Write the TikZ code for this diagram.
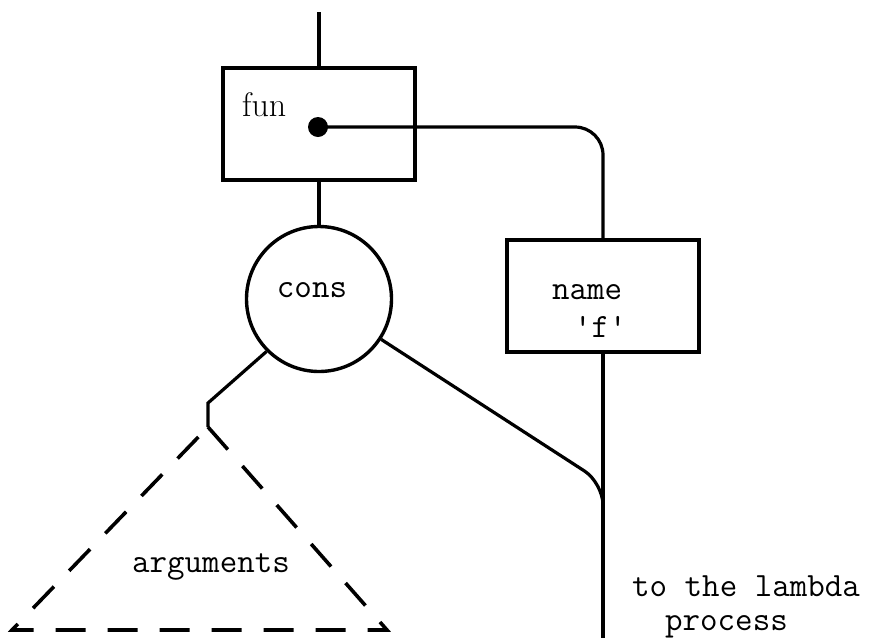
\documentclass[tikz,border=0pt]{standalone}
\usetikzlibrary{positioning}

\begin{document}
\begin{tikzpicture}[x=1pt, y=-1pt,
  box/.style={rectangle, draw, line width=3.8pt, minimum width=192pt, minimum height=112pt, inner sep=0pt},
  wire/.style={line width=3.2pt},
  lbl/.style={font=\fontsize{34}{38}\selectfont\ttfamily, inner sep=0pt}]
\useasboundingbox (0,0) rectangle (873,638);
% cells
\node[box] (fun) at (319,124) {};
\node[box] (name) at (603,296) {};
\node[circle, draw, line width=3.4pt, minimum size=145pt, inner sep=0pt] (cons) at (319,299) {};
\node[circle, fill, inner sep=0pt, minimum size=20pt] (dot) at (318,127) {};
% texts
\node[anchor=base west, inner sep=0pt, font=\fontsize{34}{34}\selectfont\rmfamily] (funtext) at (242,116) {fun};
\node[lbl, anchor=base] (constext) at (312,297) {cons};
\node[lbl, anchor=base west] (nametext) at (552,299) {name};
\node[lbl, anchor=base west] (quotetext) at (574,337) {\textquotesingle f\textquotesingle};
\node[lbl, anchor=base] (argtext) at (211,572) {arguments};
\node[lbl, anchor=base west] (totext) at (632,596) {to the lambda};
\node[lbl, anchor=base west] (proctext) at (665,630) {process};
% free ends
\coordinate (top) at (319,12);
\coordinate (bend) at (208,403);
\coordinate (apex) at (208,427);
\coordinate (baseL) at (12,630);
\coordinate (baseR) at (387,630);
\coordinate (merge) at (603,483);
\coordinate (mergeend) at (603,515);
\coordinate (bottom) at (603,638);
% connectors
\draw[wire] (top) -- (fun.north);
\draw[wire] (fun.south) -- (cons.north);
\draw[wire, rounded corners=28pt] (dot.center) -| (name.north);
\draw[wire] (name.south) -- (bottom);
\draw[wire] (cons.225) -- (bend) -- (apex);
\draw[wire, rounded corners=22pt] (cons.-33) -- (merge) -- (mergeend);
\draw[line width=3.6pt, dash pattern=on 30pt off 22pt] (apex) -- (baseR) -- (baseL) -- cycle;
\end{tikzpicture}
\end{document}
